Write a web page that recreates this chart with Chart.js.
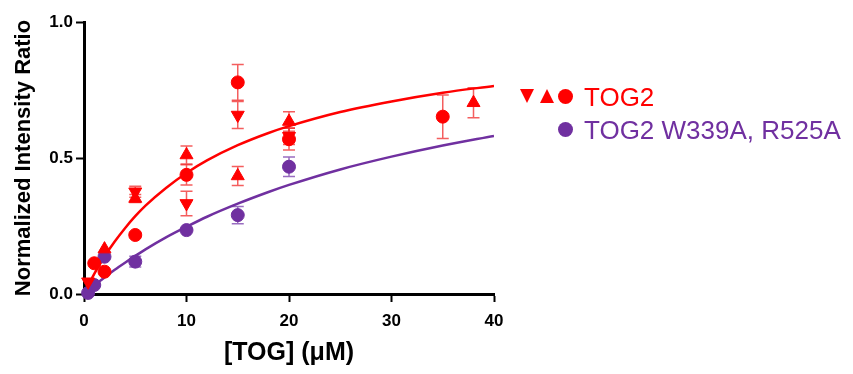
<!DOCTYPE html>
<html>
<head>
<meta charset="utf-8">
<script src="https://cdn.jsdelivr.net/npm/chart.js@4"></script>
<style>
  html, body { margin: 0; padding: 0; background: #fff; }
  #wrap { position: relative; width: 853px; height: 374px; }
  #legend { position: absolute; left: 0; top: 0; font-family: Arial, "Liberation Sans", sans-serif; }
  .row { position: absolute; white-space: nowrap; font-size: 26px; line-height: 30px; }
  .sym { position: absolute; }
  .tri-down { width: 0; height: 0; border-left: 7.5px solid transparent; border-right: 7.5px solid transparent; border-top: 14px solid #ff0000; }
  .tri-up { width: 0; height: 0; border-left: 7.5px solid transparent; border-right: 7.5px solid transparent; border-bottom: 14px solid #ff0000; }
  .dot { width: 15px; height: 15px; border-radius: 50%; }
</style>
</head>
<body>
<div id="wrap">
  <canvas id="chart" width="853" height="374"></canvas>
  <div id="legend">
    <div class="sym tri-down" style="left:520px; top:89px;"></div>
    <div class="sym tri-up" style="left:540px; top:89px;"></div>
    <div class="sym dot" style="left:558px; top:89px; background:#ff0000;"></div>
    <div class="row" style="left:584px; top:82px; color:#ff0000;">TOG2</div>
    <div class="sym dot" style="left:558px; top:122px; background:#7030a0;"></div>
    <div class="row" style="left:584px; top:115px; color:#7030a0;">TOG2 W339A, R525A</div>
  </div>
</div>
<script>
// TOG2, cercles
const tog2CircX = [1, 2, 5, 10, 15, 20, 35];
const tog2CircY = [0.113, 0.082, 0.217, 0.438, 0.778, 0.569, 0.652];
const tog2CircErr = [0, 0, 0.01, 0.037, 0.066, 0.04, 0.08];

// TOG2, triangles vers le haut
const tog2UpX = [2, 5, 10, 15, 20, 38];
const tog2UpY = [0.165, 0.351, 0.511, 0.434, 0.634, 0.703];
const tog2UpErr = [0, 0.015, 0.033, 0.035, 0.036, 0.055];

// TOG2, triangles vers le bas
const tog2DownX = [0.4, 5, 10, 15, 20];
const tog2DownY = [0.045, 0.376, 0.333, 0.658, 0.58];
const tog2DownErr = [0, 0.02, 0.045, 0.05, 0.03];

// TOG2 W339A, R525A
const mutX = [0.4, 1, 2, 5, 10, 15, 20];
const mutY = [0.004, 0.033, 0.137, 0.119, 0.235, 0.29, 0.468];
const mutErr = [0, 0, 0, 0.02, 0, 0.032, 0.036];

// courbes ajustées
const fitX = [0, 1, 2, 3, 4, 5, 6, 8, 10, 12, 15, 18, 20, 25, 30, 35, 40];
const fitTog2 = [0, 0.074, 0.138, 0.193, 0.242, 0.286, 0.325, 0.390, 0.445, 0.491, 0.547, 0.592, 0.617, 0.669, 0.708, 0.740, 0.765];
const fitMut = [0, 0.031, 0.061, 0.089, 0.115, 0.140, 0.164, 0.208, 0.247, 0.284, 0.332, 0.375, 0.401, 0.458, 0.505, 0.546, 0.581];

const xTicks = [0, 10, 20, 30, 40];
const yTicks = [0, 0.5, 1];

const RED = "#ff0000";
const PURPLE = "#7030a0";
const FONT = "Arial, 'Liberation Sans', sans-serif";

function pts(xs, ys, errs) {
  return xs.map((x, i) => ({ x: x, y: ys[i], err: errs ? errs[i] : 0 }));
}

// barres d'erreur dessinées via les échelles
const errorBars = {
  id: "errorBars",
  beforeDatasetsDraw(chart) {
    const ctx = chart.ctx;
    const xs = chart.scales.x;
    const ys = chart.scales.y;
    chart.data.datasets.forEach((ds) => {
      if (!ds.errColor) return;
      ctx.save();
      ctx.strokeStyle = ds.errColor;
      ctx.lineWidth = 1.5;
      ds.data.forEach((p) => {
        if (!p.err) return;
        const px = xs.getPixelForValue(p.x);
        const top = ys.getPixelForValue(p.y + p.err);
        const bot = ys.getPixelForValue(p.y - p.err);
        ctx.beginPath();
        ctx.moveTo(px, top);
        ctx.lineTo(px, bot);
        ctx.moveTo(px - 6, top);
        ctx.lineTo(px + 6, top);
        ctx.moveTo(px - 6, bot);
        ctx.lineTo(px + 6, bot);
        ctx.stroke();
      });
      ctx.restore();
    });
  },
};

const tickFont = { family: FONT, size: 17, weight: "bold" };

new Chart(document.getElementById("chart"), {
  type: "scatter",
  data: {
    datasets: [
      {
        data: pts(tog2CircX, tog2CircY, tog2CircErr),
        pointStyle: "circle",
        pointRadius: 6.5,
        backgroundColor: RED,
        borderColor: RED,
        errColor: "rgba(240,40,40,0.75)",
        clip: false,
        order: 1,
      },
      {
        data: pts(tog2UpX, tog2UpY, tog2UpErr),
        pointStyle: "triangle",
        pointRadius: 7.5,
        backgroundColor: RED,
        borderColor: RED,
        errColor: "rgba(240,40,40,0.75)",
        clip: false,
        order: 1,
      },
      {
        data: pts(tog2DownX, tog2DownY, tog2DownErr),
        pointStyle: "triangle",
        rotation: 180,
        pointRadius: 7.5,
        backgroundColor: RED,
        borderColor: RED,
        errColor: "rgba(240,40,40,0.75)",
        clip: false,
        order: 1,
      },
      {
        data: pts(mutX, mutY, mutErr),
        pointStyle: "circle",
        pointRadius: 6.5,
        backgroundColor: PURPLE,
        borderColor: PURPLE,
        errColor: "rgba(128,72,176,0.8)",
        clip: false,
        order: 1,
      },
      {
        type: "line",
        data: pts(fitX, fitTog2),
        borderColor: RED,
        borderWidth: 2.5,
        pointRadius: 0,
        cubicInterpolationMode: "monotone",
        fill: false,
        order: 5,
      },
      {
        type: "line",
        data: pts(fitX, fitMut),
        borderColor: PURPLE,
        borderWidth: 2.5,
        pointRadius: 0,
        cubicInterpolationMode: "monotone",
        fill: false,
        order: 5,
      },
    ],
  },
  options: {
    responsive: false,
    animation: false,
    events: [],
    layout: { padding: { top: 22, right: 359, left: 0, bottom: 0 } },
    plugins: { legend: { display: false }, tooltip: { enabled: false } },
    scales: {
      x: {
        type: "linear",
        min: 0,
        max: 40,
        afterFit: (s) => { s.height = 80; },
        afterBuildTicks: (s) => { s.ticks = xTicks.map((v) => ({ value: v })); },
        border: { color: "#000", width: 3 },
        grid: { drawOnChartArea: false, tickLength: 8, tickColor: "#000", tickWidth: 2 },
        ticks: { color: "#000", font: tickFont, padding: 9 },
        title: {
          display: true,
          text: "[TOG] (μM)",
          color: "#000",
          font: { family: FONT, size: 25, weight: "bold" },
          padding: { top: 0, bottom: 6 },
        },
      },
      y: {
        type: "linear",
        min: 0,
        max: 1,
        afterFit: (s) => { s.width = 84; },
        afterBuildTicks: (s) => { s.ticks = yTicks.map((v) => ({ value: v })); },
        border: { color: "#000", width: 3 },
        grid: { drawOnChartArea: false, tickLength: 8, tickColor: "#000", tickWidth: 2 },
        ticks: { color: "#000", font: tickFont, padding: 3, callback: (v) => v.toFixed(1) },
        title: {
          display: true,
          text: "Normalized Intensity Ratio",
          color: "#000",
          font: { family: FONT, size: 22, weight: "bold" },
          padding: { top: 11, bottom: 0 },
        },
      },
    },
  },
  plugins: [errorBars],
});
</script>
</body>
</html>
